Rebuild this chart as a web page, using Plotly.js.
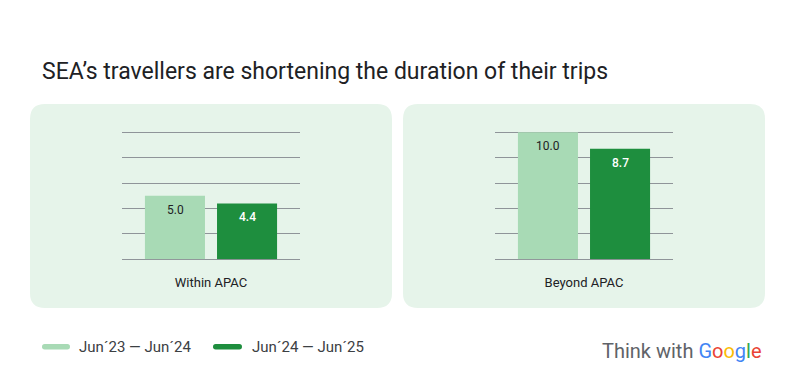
<!DOCTYPE html>
<html>
<head>
<meta charset="utf-8">
<script src="https://cdn.plot.ly/plotly-3.0.1.min.js"></script>
<style>html,body{margin:0;padding:0;background:#fff;}#chart{width:794px;height:385px;}</style>
</head>
<body>
<div id="chart"></div>
<script>
const categories = ['Within APAC', 'Beyond APAC'];
const seriesNames = ['Jun\u00b423 \u2014 Jun\u00b424', 'Jun\u00b424 \u2014 Jun\u00b425'];
const period1 = [5.0, 10.0];
const period2 = [4.4, 8.7];
const titleText = 'SEA\u2019s travellers are shortening the duration of their trips';

const W = 794, H = 385;
const X = p => p / W;
const Y = p => 1 - p / H;
const seriesValues = [period1, period2];
const barColors = ['#a8dab5', '#1e8e3e'];
const labelColors = ['#202124', '#ffffff'];
const FONT = 'Roboto, "Open Sans", sans-serif';

function roundRect(x0, y0, x1, y1, r) {
  const f = (x, y) => X(x) + ',' + Y(y);
  return 'M' + f(x0 + r, y0) + ' L' + f(x1 - r, y0) + ' Q' + f(x1, y0) + ' ' + f(x1, y0 + r) +
    ' L' + f(x1, y1 - r) + ' Q' + f(x1, y1) + ' ' + f(x1 - r, y1) +
    ' L' + f(x0 + r, y1) + ' Q' + f(x0, y1) + ' ' + f(x0, y1 - r) +
    ' L' + f(x0, y0 + r) + ' Q' + f(x0, y0) + ' ' + f(x0 + r, y0) + ' Z';
}

const traces = [];
categories.forEach((cat, j) => {
  seriesValues.forEach((vals, i) => {
    traces.push({
      type: 'bar',
      x: [cat],
      y: [vals[j]],
      name: seriesNames[i],
      xaxis: j === 0 ? 'x' : 'x2',
      yaxis: j === 0 ? 'y' : 'y2',
      marker: { color: barColors[i], line: { width: 0 } },
      showlegend: false,
      hoverinfo: 'skip'
    });
  });
});

const annotations = [];
categories.forEach((cat, j) => {
  seriesValues.forEach((vals, i) => {
    annotations.push({
      xref: j === 0 ? 'x' : 'x2',
      yref: j === 0 ? 'y' : 'y2',
      x: cat,
      y: vals[j],
      xshift: i === 0 ? -36 : 36,
      yshift: -14,
      yanchor: 'middle',
      text: vals[j].toFixed(1),
      showarrow: false,
      font: { family: FONT, size: 12, color: labelColors[i], weight: i === 1 ? 500 : 400 }
    });
  });
});

// legend texts
const legendTextX = [77, 250];
seriesNames.forEach((n, i) => {
  annotations.push({
    xref: 'paper', yref: 'paper', x: X(legendTextX[i]), y: Y(347), xanchor: 'left', yanchor: 'middle',
    text: n, showarrow: false, font: { family: FONT, size: 15, color: '#3c4043' }
  });
});

// brand
annotations.push({
  xref: 'paper', yref: 'paper', x: X(764), y: Y(351), xanchor: 'right', yanchor: 'middle',
  showarrow: false,
  font: { family: FONT, size: 20, color: '#5f6368' },
  text: 'Think with <span style="color:#4285F4">G</span><span style="color:#EA4335">o</span><span style="color:#FBBC05">o</span><span style="color:#4285F4">g</span><span style="color:#34A853">l</span><span style="color:#EA4335">e</span>'
});

const shapes = [
  { type: 'path', xref: 'paper', yref: 'paper', layer: 'below', path: roundRect(30, 104, 392, 308, 15), fillcolor: '#e6f4ea', line: { width: 0 } },
  { type: 'path', xref: 'paper', yref: 'paper', layer: 'below', path: roundRect(403, 104, 765, 308, 15), fillcolor: '#e6f4ea', line: { width: 0 } },
  { type: 'path', xref: 'paper', yref: 'paper', path: roundRect(42, 344, 70, 349.5, 2.7), fillcolor: barColors[0], line: { width: 0 } },
  { type: 'path', xref: 'paper', yref: 'paper', path: roundRect(213, 344, 242, 349.5, 2.7), fillcolor: barColors[1], line: { width: 0 } }
];

const yAxisCommon = {
  range: [0, 10.2], tick0: 0, dtick: 2, showticklabels: false, ticks: '',
  showgrid: true, gridcolor: '#8f9499', gridwidth: 1,
  zeroline: true, zerolinecolor: '#8f9499', zerolinewidth: 1, showline: false,
  domain: [Y(259.3), Y(129.7)], fixedrange: true
};
const xAxisCommon = {
  type: 'category', showgrid: false, zeroline: false, showline: false, ticks: '',
  tickfont: { family: FONT, size: 13, color: '#202124' }, ticklabelstandoff: 14, fixedrange: true
};

const layout = {
  width: W, height: H,
  margin: { l: 0, r: 0, t: 0, b: 0 },
  paper_bgcolor: '#ffffff',
  plot_bgcolor: 'rgba(0,0,0,0)',
  barmode: 'group', bargap: 0.19, bargroupgap: 0.167,
  showlegend: false,
  title: {
    text: titleText, x: X(42), xanchor: 'left', xref: 'paper',
    y: Y(71), yanchor: 'middle', yref: 'paper',
    font: { family: FONT, size: 23, color: '#202124' }
  },
  xaxis: Object.assign({}, xAxisCommon, { domain: [X(122), X(300)], anchor: 'y' }),
  yaxis: Object.assign({}, yAxisCommon, { anchor: 'x' }),
  xaxis2: Object.assign({}, xAxisCommon, { domain: [X(495), X(673)], anchor: 'y2' }),
  yaxis2: Object.assign({}, yAxisCommon, { anchor: 'x2' }),
  shapes: shapes,
  annotations: annotations
};

Plotly.newPlot('chart', traces, layout, { staticPlot: true, displayModeBar: false });
</script>
</body>
</html>
